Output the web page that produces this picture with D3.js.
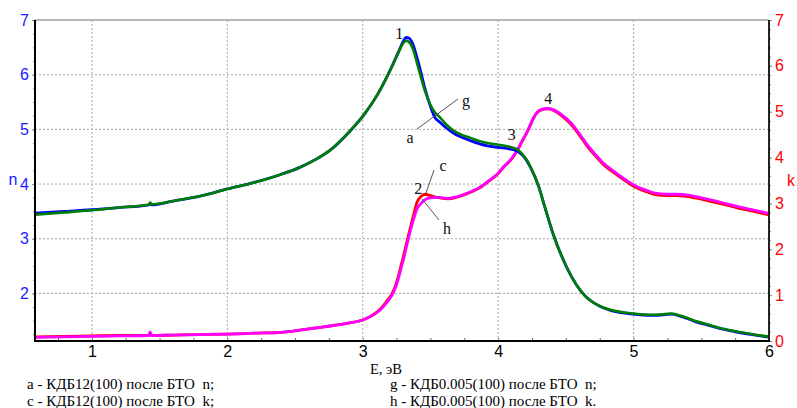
<!DOCTYPE html>
<html><head><meta charset="utf-8">
<script src="https://cdn.jsdelivr.net/npm/d3@7"></script>
<style>
body{margin:0;background:#fff;}
svg{display:block;}
text{white-space:pre;}
</style></head>
<body>
<svg id="c" width="797" height="408"></svg>
<script>
// ---- data ----
const nE  = [0.58,0.8,1.0,1.2,1.42,1.43,1.44,1.6,1.8,2.0,2.2,2.4,2.54,2.66,2.76,2.91,3.01,3.11,3.21,3.27,3.30,3.32,3.34,3.37,3.40,3.43,3.46,3.50,3.53,3.57,3.62,3.67,3.80,3.92,4.0,4.09,4.15,4.20,4.24,4.30,4.34,4.41,4.51,4.58,4.64,4.74,4.83,4.91,5.05,5.15,5.28,5.35,5.45,5.55,5.65,5.77,5.89,6.0];
const n_g = [3.44,3.48,3.52,3.57,3.62,3.66,3.63,3.69,3.78,3.91,4.03,4.18,4.31,4.46,4.62,4.98,5.27,5.64,6.12,6.44,6.58,6.62,6.60,6.48,6.22,5.95,5.70,5.45,5.32,5.22,5.08,4.98,4.84,4.75,4.72,4.68,4.62,4.48,4.31,3.95,3.62,3.06,2.46,2.15,1.96,1.78,1.70,1.66,1.62,1.61,1.63,1.59,1.50,1.43,1.36,1.30,1.25,1.21];
const n_a = [3.47,3.50,3.53,3.57,3.62,3.65,3.62,3.69,3.78,3.91,4.03,4.18,4.31,4.46,4.62,4.98,5.27,5.64,6.12,6.45,6.61,6.68,6.67,6.56,6.32,6.04,5.74,5.42,5.23,5.13,5.02,4.93,4.79,4.70,4.67,4.64,4.59,4.47,4.30,3.95,3.62,3.06,2.46,2.15,1.96,1.78,1.69,1.65,1.61,1.60,1.62,1.58,1.49,1.42,1.35,1.29,1.24,1.20];

const kE  = [0.58,0.8,1.0,1.2,1.42,1.43,1.44,1.6,1.8,2.0,2.2,2.4,2.64,2.89,3.01,3.08,3.13,3.18,3.21,3.24,3.26,3.28,3.30,3.32,3.34,3.36,3.38,3.40,3.43,3.46,3.50,3.55,3.63,3.70,3.80,3.87,3.92,4.0,4.04,4.10,4.14,4.18,4.22,4.25,4.28,4.32,4.36,4.41,4.47,4.54,4.60,4.66,4.72,4.78,4.85,4.91,4.97,5.03,5.10,5.15,5.25,5.32,5.40,5.52,5.65,5.77,5.88,6.0];
const k_h = [0.08,0.09,0.10,0.11,0.12,0.20,0.12,0.13,0.14,0.15,0.17,0.19,0.28,0.39,0.47,0.57,0.68,0.85,0.97,1.15,1.33,1.55,1.77,2.02,2.27,2.50,2.70,2.88,3.00,3.08,3.12,3.13,3.11,3.15,3.26,3.36,3.47,3.66,3.80,3.98,4.16,4.38,4.60,4.80,4.96,5.05,5.07,5.04,4.93,4.75,4.52,4.27,4.06,3.87,3.71,3.58,3.46,3.36,3.28,3.23,3.20,3.20,3.18,3.11,3.02,2.93,2.86,2.78];
const k_c = [0.09,0.10,0.11,0.12,0.12,0.16,0.12,0.13,0.14,0.15,0.17,0.19,0.28,0.39,0.47,0.58,0.70,0.88,1.00,1.19,1.38,1.61,1.84,2.09,2.33,2.57,2.80,3.02,3.15,3.20,3.17,3.13,3.10,3.14,3.25,3.35,3.46,3.65,3.79,3.97,4.15,4.37,4.59,4.79,4.95,5.04,5.06,5.03,4.91,4.72,4.49,4.24,4.03,3.84,3.68,3.55,3.43,3.33,3.25,3.20,3.17,3.17,3.15,3.08,2.99,2.90,2.83,2.75];

const xTicks = [1,2,3,4,5,6];
const nTicks = [2,3,4,5,6,7];
const kTicks = [0,1,2,3,4,5,6,7];
const legendLeft  = ["a - КДБ12(100) после БТО  n;", "c - КДБ12(100) после БТО  k;"];
const legendRight = ["g - КДБ0.005(100) после БТО  n;", "h - КДБ0.005(100) после БТО  k."];
const peakLabels  = [{t:"1",E:3.27,n:6.65},{t:"3",E:4.10,n:4.80}];
const kPeakLabels = [{t:"2",E:3.41,k:3.20},{t:"4",E:4.37,k:5.17}];

// ---- layout ----
const svg = d3.select("#c");
const L=35, R=769, T=20, B=341;
const x  = d3.scaleLinear().domain([0.58,6.0]).range([L,R]);
const yN = d3.scaleLinear().domain([1.13,7]).range([B,T]);
const yK = d3.scaleLinear().domain([0,7]).range([B,T]);

// grid
const g = svg.append("g");
g.selectAll("line.vg").data(xTicks.filter(v=>v<6)).join("line")
  .attr("x1",d=>x(d)).attr("x2",d=>x(d)).attr("y1",T).attr("y2",B)
  .attr("stroke","#a8a8a8").attr("stroke-dasharray","2,2").attr("stroke-width",1);
g.selectAll("line.hg").data(nTicks.filter(v=>v<7)).join("line")
  .attr("x1",L).attr("x2",R).attr("y1",d=>yN(d)).attr("y2",d=>yN(d))
  .attr("stroke","#a8a8a8").attr("stroke-dasharray","2,2").attr("stroke-width",1);
svg.append("line").attr("x1",L).attr("x2",R).attr("y1",T).attr("y2",T)
  .attr("stroke","#a0a0a0").attr("stroke-width",1.5);

// curves
const lineN = d3.line().x(d=>x(d[0])).y(d=>yN(d[1])).curve(d3.curveMonotoneX);
const lineK = d3.line().x(d=>x(d[0])).y(d=>yK(d[1])).curve(d3.curveMonotoneX);
const zip = (a,b)=>a.map((v,i)=>[v,b[i]]);
svg.append("defs").append("clipPath").attr("id","pc").append("rect")
  .attr("x",L).attr("y",T).attr("width",R-L).attr("height",B-T);
const curves = svg.append("g").attr("clip-path","url(#pc)");
curves.append("path").attr("d",lineK(zip(kE,k_c))).attr("fill","none").attr("stroke","#ff0000").attr("stroke-width",2.8);
curves.append("path").attr("d",lineK(zip(kE,k_h))).attr("fill","none").attr("stroke","#ff00ff").attr("stroke-width",2.8);
curves.append("path").attr("d",lineN(zip(nE,n_a))).attr("fill","none").attr("stroke","#0000ff").attr("stroke-width",2.8);
curves.append("path").attr("d",lineN(zip(nE,n_g))).attr("fill","none").attr("stroke","#008000").attr("stroke-width",2.6);

// axes
const sans = "'Liberation Sans', Arial, sans-serif";
const serif = "'Liberation Serif', 'Times New Roman', serif";
const ax = svg.append("g").attr("transform",`translate(0,${B})`)
  .call(d3.axisBottom(x).tickValues(xTicks).tickSize(0).tickPadding(5).tickFormat(d3.format("d")));
ax.select(".domain").remove();
ax.selectAll("text").attr("font-family",sans).attr("font-size",16).attr("fill","#000");
const axm = svg.append("g").attr("transform",`translate(0,${B})`)
  .call(d3.axisBottom(x).tickValues(d3.range(0.75,6.0,0.25)).tickSize(-3).tickFormat(""));
axm.select(".domain").remove(); axm.selectAll("line").attr("stroke","#666");

const al = svg.append("g").attr("transform",`translate(${L},0)`)
  .call(d3.axisLeft(yN).tickValues(nTicks).tickSize(3).tickPadding(3).tickFormat(d3.format("d")));
al.select(".domain").remove();
al.selectAll("line").attr("stroke","#888");
al.selectAll("text").attr("font-family",sans).attr("font-size",16).attr("fill","#1a1aff");
const alm = svg.append("g").attr("transform",`translate(${L},0)`)
  .call(d3.axisLeft(yN).tickValues(d3.range(1.25,7,0.25)).tickSize(2).tickFormat(""));
alm.select(".domain").remove(); alm.selectAll("line").attr("stroke","#888");

const ar = svg.append("g").attr("transform",`translate(${R},0)`)
  .call(d3.axisRight(yK).tickValues(kTicks).tickSize(3).tickPadding(3).tickFormat(d3.format("d")));
ar.select(".domain").remove();
ar.selectAll("line").attr("stroke","#888");
ar.selectAll("text").attr("font-family",sans).attr("font-size",16).attr("fill","#ff0000");
const arm = svg.append("g").attr("transform",`translate(${R},0)`)
  .call(d3.axisRight(yK).tickValues(d3.range(0.2,7,0.2)).tickSize(2).tickFormat(""));
arm.select(".domain").remove(); arm.selectAll("line").attr("stroke","#888");

svg.append("line").attr("x1",L).attr("x2",L).attr("y1",T).attr("y2",B+1).attr("stroke","#000").attr("stroke-width",2);
svg.append("line").attr("x1",R).attr("x2",R).attr("y1",T).attr("y2",B+1).attr("stroke","#222").attr("stroke-width",2);
svg.append("line").attr("x1",L-1).attr("x2",R+1).attr("y1",B).attr("y2",B).attr("stroke","#000").attr("stroke-width",2);

// axis names
svg.append("text").attr("x",13).attr("y",185).attr("text-anchor","middle").attr("font-family",sans).attr("font-size",16).attr("fill","#1a1aff").text("n");
svg.append("text").attr("x",791).attr("y",186).attr("text-anchor","middle").attr("font-family",sans).attr("font-size",16).attr("fill","#ff0000").text("k");
svg.append("text").attr("x",370).attr("y",374).attr("font-family",serif).attr("font-size",14.5).attr("fill","#000").text("E, эВ");

// annotations
const ann = svg.append("g").attr("font-family",serif).attr("font-size",16).attr("fill","#111").attr("text-anchor","middle");
peakLabels.forEach(p=>ann.append("text").attr("x",x(p.E)).attr("y",yN(p.n)).text(p.t));
kPeakLabels.forEach(p=>ann.append("text").attr("x",x(p.E)).attr("y",yK(p.k)).text(p.t));
ann.append("text").attr("x",466).attr("y",106).text("g");
ann.append("text").attr("x",410).attr("y",143).text("a");
ann.append("text").attr("x",443).attr("y",171).text("c");
ann.append("text").attr("x",447).attr("y",234).text("h");
const ll = svg.append("g").attr("stroke","#555").attr("stroke-width",1);
ll.append("line").attr("x1",458).attr("y1",99).attr("x2",417).attr("y2",129);
ll.append("line").attr("x1",434).attr("y1",170).attr("x2",426).attr("y2",193);
ll.append("line").attr("x1",422).attr("y1",199).attr("x2",439).attr("y2",220);

// legend
const lg = svg.append("g").attr("font-family",serif).attr("font-size",15).attr("fill","#000");
legendLeft.forEach((s,i)=>lg.append("text").attr("x",27).attr("y",389+i*16.5).text(s));
legendRight.forEach((s,i)=>lg.append("text").attr("x",390).attr("y",389+i*16.5).text(s));
</script>
</body></html>
